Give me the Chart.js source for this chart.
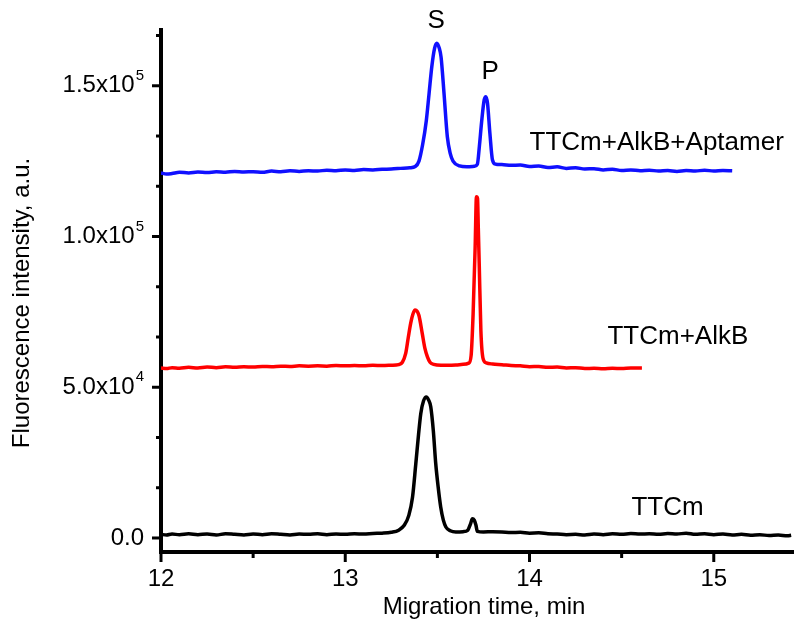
<!DOCTYPE html>
<html>
<head>
<meta charset="utf-8">
<script src="https://cdn.jsdelivr.net/npm/chart.js@4/dist/chart.umd.min.js"></script>
<style>
  html, body { margin: 0; padding: 0; background: #fff; }
  #wrap { width: 800px; height: 631px; }
</style>
</head>
<body>
<div id="wrap"><canvas id="myChart" width="800" height="631"></canvas></div>
<script>
// migration time (min) and intensity (a.u.)
const blueTime = [12.00, 12.03, 12.06, 12.10, 12.15, 12.20, 12.25, 12.30, 12.35, 12.40, 12.45, 12.50, 12.55, 12.60, 12.65, 12.70, 12.75, 12.80, 12.85, 12.90, 12.95, 13.00, 13.05, 13.10, 13.15, 13.20, 13.25, 13.30, 13.35, 13.38, 13.40, 13.42, 13.44, 13.455, 13.47, 13.485, 13.497, 13.51, 13.52, 13.536, 13.554, 13.57, 13.585, 13.62, 13.66, 13.70, 13.717, 13.728, 13.74, 13.754, 13.763, 13.772, 13.785, 13.799, 13.817, 13.85, 13.90, 13.95, 14.00, 14.05, 14.10, 14.15, 14.20, 14.25, 14.30, 14.35, 14.40, 14.45, 14.50, 14.55, 14.60, 14.65, 14.70, 14.75, 14.80, 14.85, 14.90, 14.95, 15.00, 15.05, 15.10];
const blueValue = [121100, 120700, 120900, 121300, 121100, 121400, 121200, 121500, 121300, 121600, 121400, 121500, 121300, 121700, 121500, 121800, 121600, 121800, 121700, 122000, 121800, 122100, 121900, 122200, 122100, 122300, 122400, 122600, 122800, 123200, 125000, 130500, 138500, 147500, 156500, 162500, 164100, 162500, 159500, 147500, 133100, 127500, 125000, 123400, 123100, 123300, 124000, 130000, 138000, 145300, 146400, 144200, 134200, 125400, 124000, 123900, 123600, 123700, 123200, 123400, 122900, 123100, 122600, 122800, 122400, 122500, 122100, 122300, 121900, 122100, 121800, 122000, 121700, 121900, 121600, 121900, 121700, 122000, 121700, 121900, 121800];

const redTime = [12.00, 12.03, 12.06, 12.10, 12.15, 12.20, 12.25, 12.30, 12.35, 12.40, 12.45, 12.50, 12.55, 12.60, 12.65, 12.70, 12.75, 12.80, 12.85, 12.90, 12.95, 13.00, 13.05, 13.10, 13.15, 13.20, 13.25, 13.29, 13.31, 13.328, 13.342, 13.355, 13.367, 13.379, 13.39, 13.40, 13.418, 13.432, 13.446, 13.46, 13.48, 13.52, 13.56, 13.60, 13.64, 13.67, 13.683, 13.694, 13.705, 13.712, 13.718, 13.722, 13.727, 13.736, 13.748, 13.765, 13.80, 13.85, 13.90, 13.95, 14.00, 14.05, 14.10, 14.15, 14.20, 14.25, 14.30, 14.35, 14.40, 14.45, 14.50, 14.55, 14.61];
const redValue = [56400, 56200, 56500, 56300, 56600, 56400, 56700, 56500, 56800, 56600, 56800, 56700, 56900, 56800, 57000, 56900, 57100, 57000, 57100, 57000, 57200, 57100, 57200, 57100, 57300, 57200, 57300, 57500, 58300, 61200, 66500, 71200, 74200, 75600, 75200, 73800, 67800, 63000, 60100, 58300, 57600, 57300, 57300, 57400, 57600, 58000, 60500, 74500, 96600, 113200, 112600, 103000, 91100, 68900, 59500, 58100, 57700, 57500, 57200, 57100, 56800, 56900, 56600, 56700, 56400, 56500, 56200, 56300, 56100, 56300, 56200, 56400, 56400];

const blackTime = [12.00, 12.03, 12.06, 12.10, 12.15, 12.20, 12.25, 12.30, 12.35, 12.40, 12.45, 12.50, 12.55, 12.60, 12.65, 12.70, 12.75, 12.80, 12.85, 12.90, 12.95, 13.00, 13.05, 13.10, 13.15, 13.20, 13.25, 13.29, 13.32, 13.345, 13.365, 13.383, 13.398, 13.41, 13.425, 13.44, 13.452, 13.464, 13.478, 13.491, 13.505, 13.518, 13.532, 13.546, 13.57, 13.60, 13.64, 13.665, 13.68, 13.69, 13.70, 13.709, 13.717, 13.75, 13.80, 13.85, 13.90, 13.95, 14.00, 14.05, 14.10, 14.15, 14.20, 14.25, 14.30, 14.35, 14.40, 14.45, 14.50, 14.55, 14.60, 14.65, 14.70, 14.75, 14.80, 14.85, 14.90, 14.95, 15.00, 15.05, 15.10, 15.15, 15.20, 15.25, 15.30, 15.35, 15.40, 15.42];
const blackValue = [1200, 1000, 1300, 1100, 1400, 1100, 1300, 1000, 1400, 1200, 1000, 1300, 1100, 1400, 1200, 1000, 1300, 1200, 1400, 1100, 1300, 1200, 1400, 1300, 1500, 1600, 1900, 2600, 4200, 7500, 13500, 24700, 34500, 41300, 45500, 46800, 45800, 43500, 35500, 24700, 16500, 10300, 6000, 3650, 2400, 2000, 2100, 2600, 4700, 6400, 5900, 4300, 2200, 2000, 2100, 2000, 1800, 1900, 1600, 1700, 1400, 1300, 1100, 1200, 1000, 1300, 1100, 1400, 1200, 1500, 1300, 1400, 1200, 1500, 1300, 1600, 1200, 1400, 1100, 1300, 1000, 1200, 900, 1100, 800, 1000, 700, 900];

// axis ticks
const xMajor = [12, 13, 14, 15];
const xMinor = [12.5, 13.5, 14.5];
const yMajor = [0, 50000, 100000, 150000];
const yTickBase = ['0.0', '5.0x10', '1.0x10', '1.5x10'];
const yTickExp = ['', '4', '5', '5'];
const yMinor = [16667, 33333, 66667, 83333, 116667, 133333, 166667];

// text labels placed at data positions
const noteText = ['S', 'P', 'TTCm+AlkB+Aptamer', 'TTCm+AlkB', 'TTCm'];
const noteX = [13.493, 13.786, 14.0, 14.423, 14.553];
const noteY = [171500, 154600, 131000, 66600, 9860];
const noteAlign = ['center', 'center', 'left', 'left', 'left'];

const FONT = '"Liberation Sans", Arial, sans-serif';

function pairs(xs, ys) {
    return xs.map((x, i) => ({ x: x, y: ys[i] }));
}

const axisDecor = {
    id: 'axisDecor',
    afterDraw(chart) {
        const ctx = chart.ctx;
        const xs = chart.scales.x;
        const ys = chart.scales.y;
        const a = chart.chartArea;
        ctx.save();
        ctx.strokeStyle = '#000';
        ctx.fillStyle = '#000';
        ctx.lineWidth = 3;

        // y ticks
        yMajor.forEach(v => {
            const py = ys.getPixelForValue(v);
            ctx.beginPath(); ctx.moveTo(a.left - 9, py); ctx.lineTo(a.left, py); ctx.stroke();
        });
        yMinor.forEach(v => {
            const py = ys.getPixelForValue(v);
            ctx.beginPath(); ctx.moveTo(a.left - 5, py); ctx.lineTo(a.left, py); ctx.stroke();
        });
        ctx.textBaseline = 'middle';
        ctx.textAlign = 'right';
        yMajor.forEach((v, i) => {
            const py = ys.getPixelForValue(v);
            let right = a.left - 17;
            if (yTickExp[i]) {
                ctx.font = '15px ' + FONT;
                ctx.fillText(yTickExp[i], right, py - 10);
                right -= ctx.measureText(yTickExp[i]).width + 1;
            }
            ctx.font = '24px ' + FONT;
            ctx.fillText(yTickBase[i], right, py);
        });

        // x ticks
        xMajor.forEach(v => {
            const px = xs.getPixelForValue(v);
            ctx.beginPath(); ctx.moveTo(px, a.bottom); ctx.lineTo(px, a.bottom + 10); ctx.stroke();
        });
        xMinor.forEach(v => {
            const px = xs.getPixelForValue(v);
            ctx.beginPath(); ctx.moveTo(px, a.bottom); ctx.lineTo(px, a.bottom + 6); ctx.stroke();
        });
        ctx.textAlign = 'center';
        ctx.font = '24px ' + FONT;
        xMajor.forEach(v => {
            ctx.fillText(String(v), xs.getPixelForValue(v), a.bottom + 27);
        });

        // axis titles
        ctx.font = '24px ' + FONT;
        ctx.fillText('Migration time, min', 484, 607);
        ctx.save();
        ctx.translate(22, 303);
        ctx.rotate(-Math.PI / 2);
        ctx.fillText('Fluorescence intensity, a.u.', 0, 0);
        ctx.restore();

        // peak and trace labels
        ctx.font = '26px ' + FONT;
        noteText.forEach((t, i) => {
            ctx.textAlign = noteAlign[i];
            ctx.fillText(t, xs.getPixelForValue(noteX[i]), ys.getPixelForValue(noteY[i]));
        });
        ctx.restore();
    }
};

const ctx = document.getElementById('myChart');
new Chart(ctx, {
    type: 'line',
    data: {
        datasets: [{
            label: 'TTCm+AlkB+Aptamer',
            data: pairs(blueTime, blueValue),
            borderColor: '#1010ff',
            borderWidth: 3.5,
            pointRadius: 0,
            cubicInterpolationMode: 'monotone'
        }, {
            label: 'TTCm+AlkB',
            data: pairs(redTime, redValue),
            borderColor: '#ff0000',
            borderWidth: 3.5,
            pointRadius: 0,
            cubicInterpolationMode: 'monotone'
        }, {
            label: 'TTCm',
            data: pairs(blackTime, blackValue),
            borderColor: '#000000',
            borderWidth: 3.5,
            pointRadius: 0,
            cubicInterpolationMode: 'monotone'
        }]
    },
    options: {
        responsive: false,
        animation: false,
        layout: {
            padding: { top: 30, right: 7, left: 0, bottom: 0 }
        },
        plugins: {
            legend: { display: false },
            tooltip: { enabled: false }
        },
        scales: {
            x: {
                type: 'linear',
                min: 12,
                max: 15.43,
                grid: { display: false },
                ticks: { display: false },
                border: { display: true, color: '#000', width: 4 },
                afterFit: s => { s.height = 79; }
            },
            y: {
                type: 'linear',
                min: -4650,
                max: 168500,
                grid: { display: false },
                ticks: { display: false },
                border: { display: true, color: '#000', width: 4 },
                afterFit: s => { s.width = 161; }
            }
        }
    },
    plugins: [axisDecor]
});
</script>
</body>
</html>
